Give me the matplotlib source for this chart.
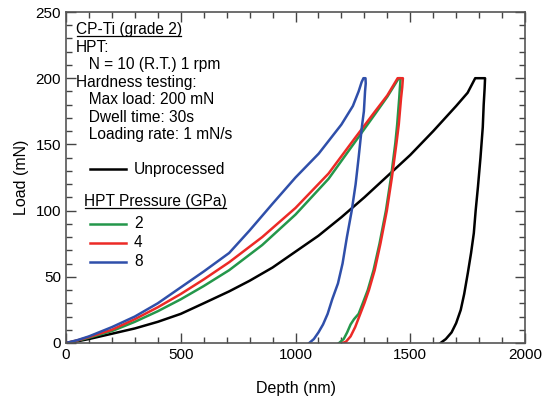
import matplotlib
matplotlib.use('Agg')
import matplotlib.pyplot as plt
from matplotlib.lines import Line2D
from matplotlib.ticker import MultipleLocator

plt.rcParams['font.family'] = ['Liberation Sans', 'DejaVu Sans']

# load-depth curves (depth nm, load mN)
unproc_depth = [0, 50, 100, 200, 300, 400, 500, 600, 711, 800, 900, 1000, 1100, 1200, 1300, 1400, 1500, 1600, 1700, 1750, 1783, 1826,
                1824, 1820, 1816, 1806, 1795, 1785, 1777, 1765, 1751, 1735, 1720, 1700, 1680, 1655, 1632]
unproc_load = [0, 1.3, 3, 7, 11, 16, 22, 30, 39, 47, 57, 69, 81, 95, 110, 126, 142, 160, 179, 189, 200, 200,
               192, 180, 163, 140, 118, 100, 83, 68, 53, 37, 25, 15, 8, 3, 0]

gpa2_depth = [0, 50, 100, 200, 300, 400, 500, 600, 711, 855, 1000, 1144, 1260, 1347, 1400, 1450, 1458,
              1455, 1452, 1443, 1435, 1416, 1394, 1366, 1340, 1315, 1293, 1275, 1255, 1240, 1225, 1210, 1190]
gpa2_load = [0, 1.8, 4, 9, 16, 24, 33, 43, 55, 74, 97, 124, 152, 173, 186, 200, 200,
             193, 185, 165, 151, 125, 100, 75, 55, 40, 30, 22, 18, 14, 8, 3, 0]

gpa4_depth = [0, 50, 100, 200, 300, 400, 500, 600, 711, 855, 1000, 1144, 1260, 1347, 1400, 1445, 1468,
              1465, 1460, 1450, 1440, 1420, 1398, 1370, 1345, 1320, 1300, 1280, 1260, 1240, 1220, 1205]
gpa4_load = [0, 2, 4.5, 10, 18, 27, 37, 48, 61, 80, 102, 128, 155, 175, 187, 200, 200,
             193, 185, 165, 151, 125, 100, 75, 55, 40, 30, 21, 12, 5, 1, 0]

gpa8_depth = [0, 50, 100, 200, 300, 400, 500, 600, 711, 800, 899, 1000, 1101, 1200, 1250, 1275, 1288, 1296, 1305,
              1306, 1303, 1298, 1289, 1275, 1262, 1245, 1224, 1205, 1185, 1160, 1140, 1120, 1100, 1080, 1060]
gpa8_load = [0, 2.2, 5, 12, 20, 30, 42, 54, 68, 85, 105, 125, 143, 165, 179, 190, 197, 200, 200,
             196, 190, 175, 163, 140, 120, 100, 80, 60, 45, 33, 22, 14, 8, 3, 0]

info_lines = ['HPT:', '   N = 10 (R.T.) 1 rpm', 'Hardness testing:', '   Max load: 200 mN',
              '   Dwell time: 30s', '   Loading rate: 1 mN/s']

fig = plt.figure(figsize=(5.43, 4.04), dpi=100)
ax = fig.add_axes([66 / 543, 1 - 343 / 404, 459 / 543, 331 / 404])

ax.plot(unproc_depth, unproc_load, color='black', lw=1.8)
l2, = ax.plot(gpa2_depth, gpa2_load, color='#24974a', lw=1.8)
l4, = ax.plot(gpa4_depth, gpa4_load, color='#ec2a26', lw=1.8)
l8, = ax.plot(gpa8_depth, gpa8_load, color='#2f4faa', lw=1.8)

ax.set_xlim(0, 2000)
ax.set_ylim(0, 250)
ax.xaxis.set_major_locator(MultipleLocator(500))
ax.xaxis.set_minor_locator(MultipleLocator(100))
ax.yaxis.set_major_locator(MultipleLocator(50))
ax.yaxis.set_minor_locator(MultipleLocator(10))
ax.tick_params(which='both', direction='in', top=True, right=True, color='#444444', labelsize=11)
ax.tick_params(which='major', length=7, width=1)
ax.tick_params(which='minor', length=4, width=1)
for s in ax.spines.values():
    s.set_color('#555555')
    s.set_linewidth(1.2)
ax.set_xlabel('Depth (nm)', fontsize=11.5, labelpad=14)
ax.set_ylabel('Load (mN)', fontsize=11.5, labelpad=5)


def ax_xy(px, py):
    return (px - 66) / 459, (343 - py) / 331


fs = 11.2
t_title = ax.text(*ax_xy(76, 29.5), 'CP-Ti (grade 2)', transform=ax.transAxes, fontsize=fs, va='center')
for i, line in enumerate(info_lines):
    ax.text(*ax_xy(76, 47 + 17.5 * i), line, transform=ax.transAxes, fontsize=fs, va='center')

# legend entries
ax.add_line(Line2D([0.053, 0.13], [ax_xy(0, 169)[1]] * 2, transform=ax.transAxes, color='black', lw=1.8))
ax.text(*ax_xy(134, 169), 'Unprocessed', transform=ax.transAxes, fontsize=fs, va='center')
t_hpt = ax.text(*ax_xy(84, 201.5), 'HPT Pressure (GPa)', transform=ax.transAxes, fontsize=fs, va='center')
for ln, lab, py in [(l2, '2', 223.5), (l4, '4', 242.5), (l8, '8', 261.5)]:
    y = ax_xy(0, py)[1]
    ax.add_line(Line2D([0.053, 0.13], [y, y], transform=ax.transAxes, color=ln.get_color(), lw=1.8))
    ax.text(*ax_xy(134, py), lab, transform=ax.transAxes, fontsize=fs, va='center')

# underline the two headings
fig.canvas.draw()
r = fig.canvas.get_renderer()
for t in (t_title, t_hpt):
    bb = t.get_window_extent(r)
    fig.add_artist(Line2D([bb.x0 + 1, bb.x1 - 1], [bb.y0 + 1, bb.y0 + 1], transform=None, color='black', lw=0.9))

fig.savefig('out.png', dpi=100)
